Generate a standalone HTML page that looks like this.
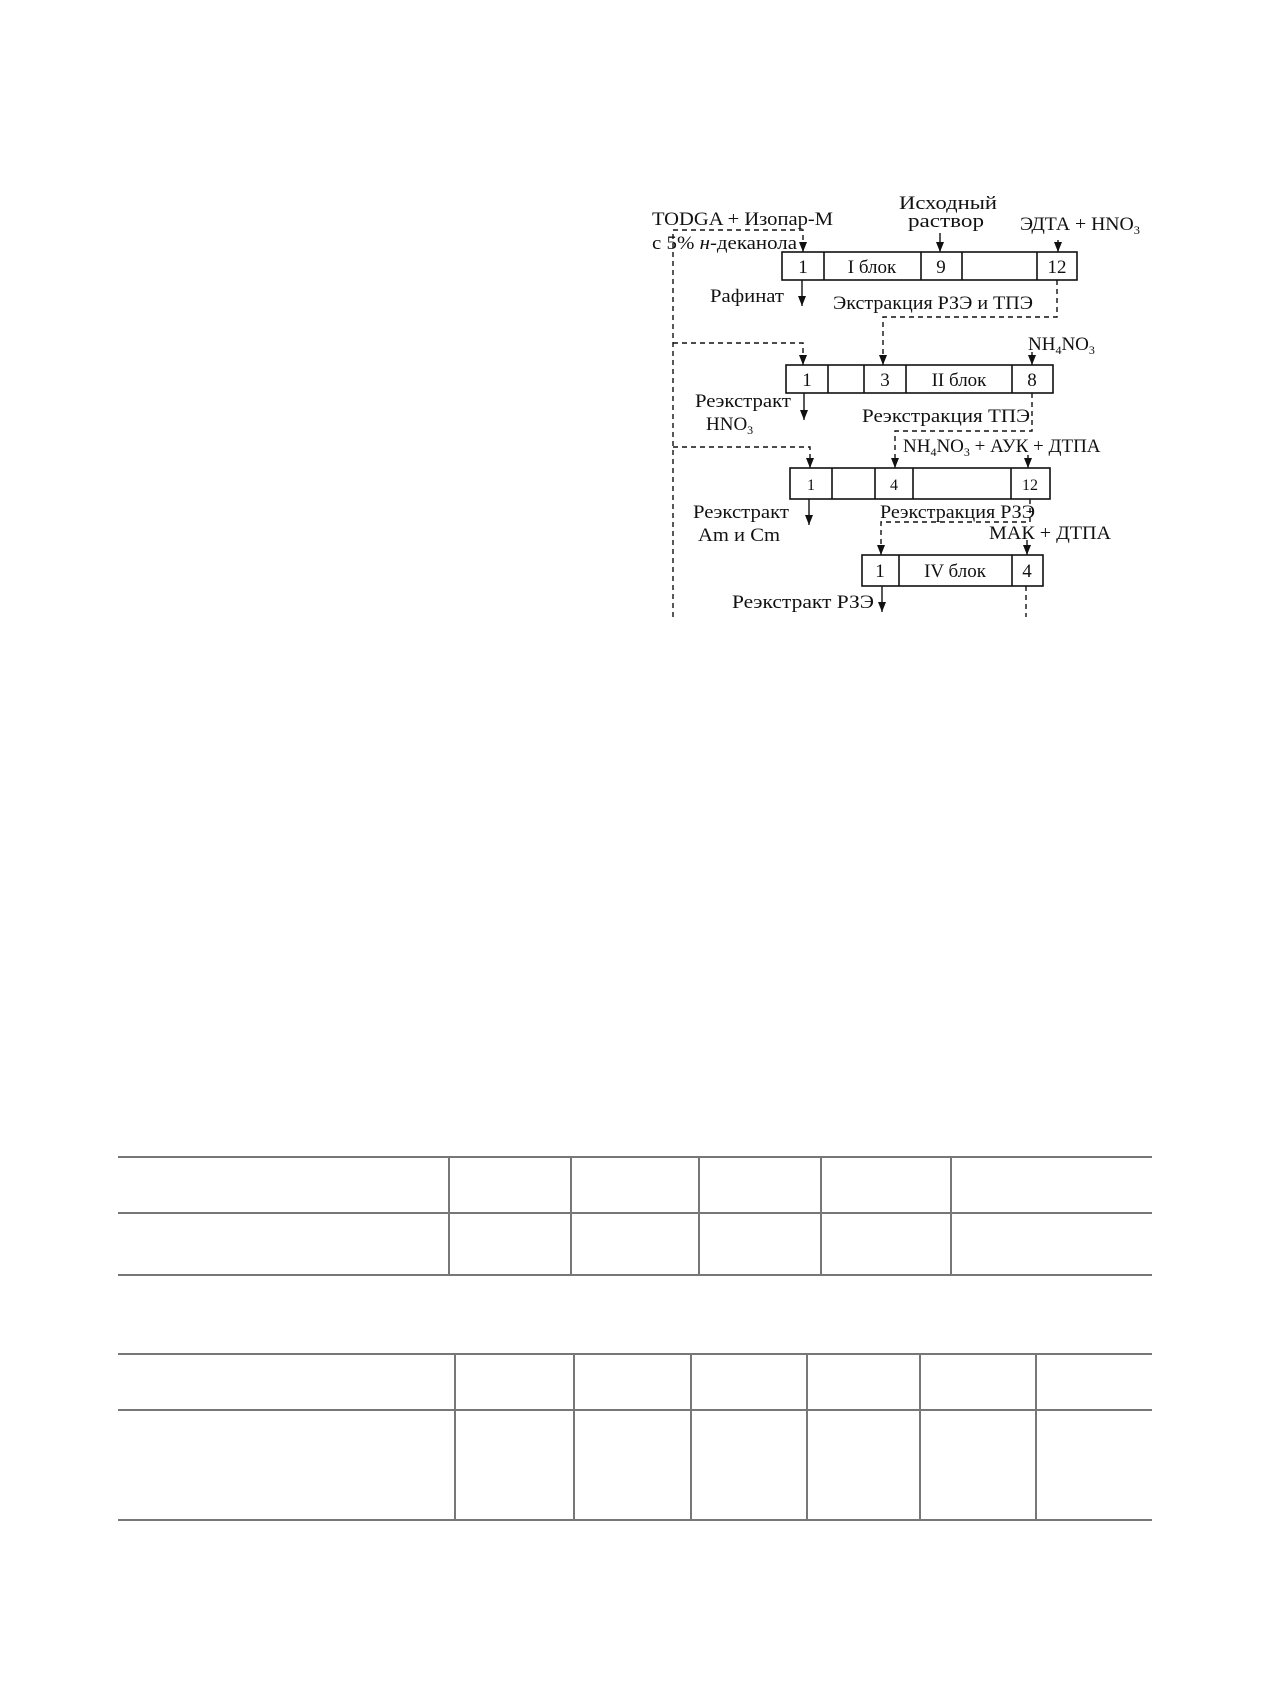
<!DOCTYPE html>
<html><head><meta charset="utf-8"><style>
html,body{margin:0;padding:0;background:#fff;}
svg{display:block;}
text{font-family:"Liberation Serif",serif;fill:#111;}
</style></head><body>
<svg width="1270" height="1683" viewBox="0 0 1270 1683" xmlns="http://www.w3.org/2000/svg">
<defs><marker id="a" markerWidth="8" markerHeight="10" refX="4" refY="10" orient="0" markerUnits="userSpaceOnUse"><path d="M0,0 L8,0 L4,10 Z" fill="#111"/></marker></defs>
<g font-size="19">
<text x="652" y="225" textLength="181" lengthAdjust="spacingAndGlyphs">TODGA + Изопар-М</text>
<text x="652" y="249" textLength="145" lengthAdjust="spacingAndGlyphs">с 5% <tspan font-style="italic">н</tspan>-деканола</text>
<text x="899" y="209" textLength="98" lengthAdjust="spacingAndGlyphs">Исходный</text>
<text x="908" y="227" textLength="76" lengthAdjust="spacingAndGlyphs">раствор</text>
<text x="1020" y="230" textLength="120" lengthAdjust="spacingAndGlyphs">ЭДТА + HNO<tspan font-size="12" dy="4">3</tspan></text>
<text x="710" y="302" textLength="74" lengthAdjust="spacingAndGlyphs">Рафинат</text>
<text x="833" y="309" textLength="200" lengthAdjust="spacingAndGlyphs">Экстракция РЗЭ и ТПЭ</text>
<text x="1028" y="350">NH<tspan font-size="12" dy="4">4</tspan><tspan dy="-4">NO</tspan><tspan font-size="12" dy="4">3</tspan></text>
<text x="695" y="407" textLength="96" lengthAdjust="spacingAndGlyphs">Реэкстракт</text>
<text x="706" y="430">HNO<tspan font-size="12" dy="4">3</tspan></text>
<text x="862" y="422" textLength="168" lengthAdjust="spacingAndGlyphs">Реэкстракция ТПЭ</text>
<text x="903" y="452">NH<tspan font-size="12" dy="4">4</tspan><tspan dy="-4">NO</tspan><tspan font-size="12" dy="4">3</tspan><tspan dy="-4">  + АУК + ДТПА</tspan></text>
<text x="693" y="518" textLength="96" lengthAdjust="spacingAndGlyphs">Реэкстракт</text>
<text x="698" y="541" textLength="82" lengthAdjust="spacingAndGlyphs">Am и Cm</text>
<text x="880" y="518" textLength="155" lengthAdjust="spacingAndGlyphs">Реэкстракция РЗЭ</text>
<text x="989" y="539" textLength="122" lengthAdjust="spacingAndGlyphs">МАК + ДТПА</text>
<text x="732" y="608" textLength="142" lengthAdjust="spacingAndGlyphs">Реэкстракт РЗЭ</text>
</g>
<g fill="none" stroke="#111" stroke-width="1.6">
<rect x="782" y="252" width="295" height="28"/>
<path d="M824 252V280M921 252V280M962 252V280M1037 252V280"/>
<rect x="786" y="365" width="267" height="28"/>
<path d="M828 365V393M864 365V393M906 365V393M1012 365V393"/>
<rect x="790" y="468" width="260" height="31"/>
<path d="M832 468V499M875 468V499M913 468V499M1011 468V499"/>
<rect x="862" y="555" width="181" height="31"/>
<path d="M899 555V586M1012 555V586"/>
</g>
<g font-size="19" text-anchor="middle">
<text x="803" y="273">1</text><text x="872" y="273">I блок</text><text x="941" y="273">9</text><text x="1057" y="273">12</text>
<text x="807" y="386">1</text><text x="885" y="386">3</text><text x="959" y="386">II блок</text><text x="1032" y="386">8</text>
<text x="811" y="490" font-size="16">1</text><text x="894" y="490" font-size="16">4</text><text x="1030" y="490" font-size="16">12</text>
<text x="880" y="577">1</text><text x="955" y="577">IV блок</text><text x="1027" y="577">4</text>
</g>
<g fill="none" stroke="#111" stroke-width="1.4" stroke-dasharray="5,4">
<path d="M673 617V230H803V244"/>
<path d="M673 343H803V357"/>
<path d="M673 447H810V460"/>
<path d="M1057 280V317H883V357"/>
<path d="M1032 393V431H895V460"/>
<path d="M1030 499V522H881V547"/>
<path d="M1026 586V617"/>
</g>
<g stroke="#111" stroke-width="1.4">
<line x1="803" y1="244" x2="803" y2="252" marker-end="url(#a)"/>
<line x1="803" y1="357" x2="803" y2="365" marker-end="url(#a)"/>
<line x1="810" y1="460" x2="810" y2="468" marker-end="url(#a)"/>
<line x1="883" y1="357" x2="883" y2="365" marker-end="url(#a)"/>
<line x1="895" y1="460" x2="895" y2="468" marker-end="url(#a)"/>
<line x1="881" y1="547" x2="881" y2="555" marker-end="url(#a)"/>
<line x1="940" y1="233" x2="940" y2="252" marker-end="url(#a)"/>
<line x1="1058" y1="240" x2="1058" y2="252" marker-end="url(#a)"/>
<line x1="1032" y1="352" x2="1032" y2="365" marker-end="url(#a)"/>
<line x1="1028" y1="455" x2="1028" y2="468" marker-end="url(#a)"/>
<line x1="1027" y1="540" x2="1027" y2="555" marker-end="url(#a)"/>
<line x1="802" y1="280" x2="802" y2="306" marker-end="url(#a)"/>
<line x1="804" y1="393" x2="804" y2="420" marker-end="url(#a)"/>
<line x1="809" y1="499" x2="809" y2="525" marker-end="url(#a)"/>
<line x1="882" y1="586" x2="882" y2="612" marker-end="url(#a)"/>
</g>
<g stroke="#777" stroke-width="2" fill="none">
<path d="M118 1157H1152M118 1213H1152M118 1275H1152"/>
<path d="M449 1157V1275M571 1157V1275M699 1157V1275M821 1157V1275M951 1157V1275"/>
<path d="M118 1354H1152M118 1410H1152M118 1520H1152"/>
<path d="M455 1354V1520M574 1354V1520M691 1354V1520M807 1354V1520M920 1354V1520M1036 1354V1520"/>
</g>
</svg>
</body></html>
